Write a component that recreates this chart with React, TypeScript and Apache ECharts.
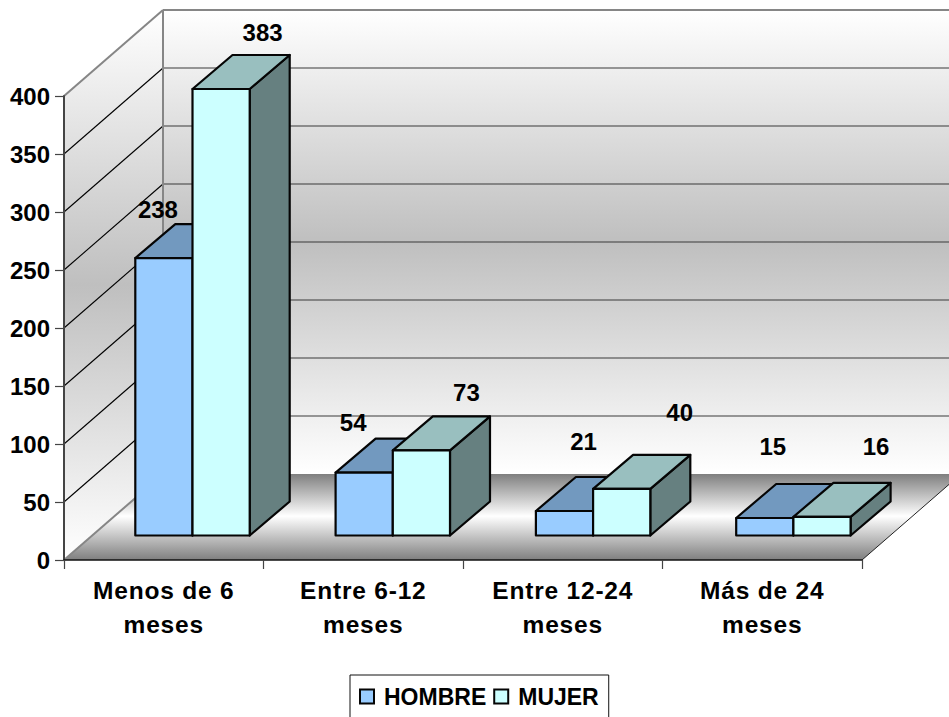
import React, { useEffect, useRef } from "react";
import * as echarts from "echarts";

const categories = ["Menos de 6\nmeses", "Entre 6-12\nmeses", "Entre 12-24\nmeses", "Más de 24\nmeses"];
const hombre = [238, 54, 21, 15];
const mujer = [383, 73, 40, 16];
const yTicks = [0, 50, 100, 150, 200, 250, 300, 350, 400];

// Offsets of the printed labels from the top-centre of their bar (px)
const hombreLabelOffset = [[-6, -48.5], [-11, -50.5], [19, -69.5], [8, -71.5]];
const mujerLabelOffset = [[41.5, -56.5], [45, -57.5], [58, -76], [54, -70.5]];

const FONT = '"Liberation Sans", Arial, sans-serif';
const WALL_DX = 99;
const WALL_DY = -86;
const BAR_W = 57.2;
const GROUP_SCALE_X = 1.004;
const FRONT_DX = 28.35;
const FRONT_DY = -24.5;
const BAR_DX = 40;
const BAR_DY = -34;
const FRONT_SCALE = 1.005;
const EDGE = "#050505";

const mirrorGradient = (edge: string, mid: string, midAt: number) => ({
  type: "linear", x: 0, y: 0, x2: 0, y2: 1,
  colorStops: [
    { offset: 0, color: edge },
    { offset: midAt, color: mid },
    { offset: 1, color: edge },
  ],
});

function renderWalls(params: any, api: any) {
  const cs = params.coordSys;
  const x0 = cs.x;
  const x1 = cs.x + cs.width;
  const yOf = (v: number) => api.coord([0, v])[1];
  const y0 = yOf(0);
  const yTop = yOf(yTicks[yTicks.length - 1]);
  const bx0 = x0 + WALL_DX;
  const bx1 = x1 + WALL_DX;
  const children: any[] = [
    {
      type: "polygon",
      shape: { points: [[bx0, yTop + WALL_DY], [bx1, yTop + WALL_DY], [bx1, y0 + WALL_DY], [bx0, y0 + WALL_DY]] },
      style: { fill: mirrorGradient("#ffffff", "#bfbfbf", 0.5) },
    },
    {
      type: "polygon",
      shape: { points: [[x0, yTop], [bx0, yTop + WALL_DY], [bx0, y0 + WALL_DY], [x0, y0]] },
      style: { fill: mirrorGradient("#ffffff", "#bfbfbf", 0.5) },
    },
    {
      type: "polygon",
      shape: { points: [[x0, y0], [bx0, y0 + WALL_DY], [bx1, y0 + WALL_DY], [x1, y0]] },
      style: { fill: mirrorGradient("#7f7f7f", "#ffffff", 0.49) },
    },
  ];
  yTicks.forEach((t) => {
    const y = yOf(t);
    const edge = t === 0 || t === yTicks[yTicks.length - 1];
    if (t !== 0) {
      children.push({
        type: "line",
        shape: { x1: bx0, y1: y + WALL_DY, x2: bx1, y2: y + WALL_DY },
        style: { stroke: edge ? "#868686" : "#3a3a3a", lineWidth: edge ? 2 : 1.2 },
      });
    }
    children.push({
      type: "line",
      shape: { x1: x0, y1: y, x2: bx0, y2: y + WALL_DY },
      style: { stroke: edge ? "#868686" : "#000000", lineWidth: edge ? 2 : 1.1 },
    });
  });
  children.push({
    type: "line",
    shape: { x1: bx0, y1: yTop + WALL_DY, x2: bx0, y2: y0 + WALL_DY },
    style: { stroke: "#868686", lineWidth: 2 },
  });
  children.push({
    type: "line",
    shape: { x1: x1, y1: y0, x2: bx1, y2: y0 + WALL_DY },
    style: { stroke: "#222222", lineWidth: 1 },
  });
  return { type: "group", children };
}

const makeBarRenderer = (
  index: number,
  colors: { front: string; top: string; side: string },
  labelOffset: number[][]
) => (params: any, api: any) => {
  const cat = api.value(0);
  const val = api.value(1);
  const [cx, yBase] = api.coord([cat, 0]);
  const yVal = api.coord([cat, val])[1];
  const x0 = params.coordSys.x;
  const mid = x0 + (cx - x0) * GROUP_SCALE_X + FRONT_DX;
  const xl = mid + (index - 1) * BAR_W;
  const xr = xl + BAR_W;
  const yb = yBase + FRONT_DY;
  const yt = yb - (yBase - yVal) * FRONT_SCALE;
  const base = { stroke: EDGE, lineWidth: 2.2, lineJoin: "round" };
  const off = labelOffset[params.dataIndex];
  return {
    type: "group",
    children: [
      {
        type: "polygon",
        shape: { points: [[xr, yt], [xr + BAR_DX, yt + BAR_DY], [xr + BAR_DX, yb + BAR_DY], [xr, yb]] },
        style: { ...base, fill: colors.side },
      },
      {
        type: "polygon",
        shape: { points: [[xl, yt], [xl + BAR_DX, yt + BAR_DY], [xr + BAR_DX, yt + BAR_DY], [xr, yt]] },
        style: { ...base, fill: colors.top },
      },
      {
        type: "polygon",
        shape: { points: [[xl, yt], [xr, yt], [xr, yb], [xl, yb]] },
        style: { ...base, fill: colors.front },
      },
      {
        type: "text",
        style: {
          text: String(val),
          x: (xl + xr) / 2 + off[0],
          y: yt + off[1],
          align: "center",
          verticalAlign: "middle",
          fontFamily: FONT,
          fontWeight: "bold",
          fontSize: 24,
          fill: "#000000",
        },
      },
    ],
  };
};

const toPoints = (values: number[]) => values.map((v, i) => [i, v]);

export default function App() {
  const ref = useRef<HTMLDivElement>(null);
  useEffect(() => {
    document.body.style.margin = "0";
    document.body.style.background = "#ffffff";
    const css = document.createElement("style");
    css.textContent = 'text[style*="24.5px"]{letter-spacing:0.8px}';
    document.head.appendChild(css);
    const chart = echarts.init(ref.current!, null, { renderer: "svg" });
    chart.setOption({
      animation: false,
      backgroundColor: "#ffffff",
      textStyle: { fontFamily: FONT },
      grid: { left: 64, right: 87, top: 96, bottom: 157 },
      legend: {
        data: ["HOMBRE", "MUJER"],
        left: 350,
        top: 675,
        orient: "horizontal",
        padding: [10, 10, 30, 9],
        itemWidth: 14,
        itemHeight: 14,
        itemGap: 7,
        icon: "rect",
        borderColor: "#111111",
        borderWidth: 1,
        textStyle: { fontFamily: FONT, fontWeight: "bold", fontSize: 23, color: "#000000", padding: [0, 0, 0, 5] },
      },
      xAxis: {
        type: "category",
        data: categories,
        z: 5,
        axisLine: { lineStyle: { color: "#111111", width: 1.5 } },
        axisTick: { show: true, length: 9, lineStyle: { color: "#444444", width: 1.2 } },
        axisLabel: {
          interval: 0,
          margin: 13,
          fontFamily: FONT,
          fontWeight: "bold",
          fontSize: 24.5,
          lineHeight: 34,
          color: "#000000",
        },
      },
      yAxis: {
        type: "value",
        min: 0,
        max: 400,
        interval: 50,
        z: 5,
        splitLine: { show: false },
        axisLine: { show: true, lineStyle: { color: "#444444", width: 2 } },
        axisTick: { show: true, length: 9, lineStyle: { color: "#444444", width: 1.2 } },
        axisLabel: { margin: 14, fontFamily: FONT, fontWeight: "bold", fontSize: 24, color: "#000000" },
      },
      series: [
        {
          type: "custom",
          name: "walls",
          z: 1,
          silent: true,
          clip: false,
          data: [[0, 0]],
          encode: { x: 0, y: 1 },
          renderItem: renderWalls,
        },
        {
          type: "custom",
          name: "HOMBRE",
          z: 2,
          clip: false,
          data: toPoints(hombre),
          encode: { x: 0, y: 1 },
          itemStyle: { color: "#99ccff", borderColor: EDGE, borderWidth: 2 },
          renderItem: makeBarRenderer(0, { front: "#99ccff", top: "#7299bf", side: "#4c6680" }, hombreLabelOffset),
        },
        {
          type: "custom",
          name: "MUJER",
          z: 3,
          clip: false,
          data: toPoints(mujer),
          encode: { x: 0, y: 1 },
          itemStyle: { color: "#ccffff", borderColor: EDGE, borderWidth: 2 },
          renderItem: makeBarRenderer(1, { front: "#ccffff", top: "#99bfbf", side: "#668080" }, mujerLabelOffset),
        },
      ],
    });
    return () => {
      chart.dispose();
      css.remove();
    };
  }, []);
  return <div ref={ref} style={{ width: 949, height: 717 }} />;
}
